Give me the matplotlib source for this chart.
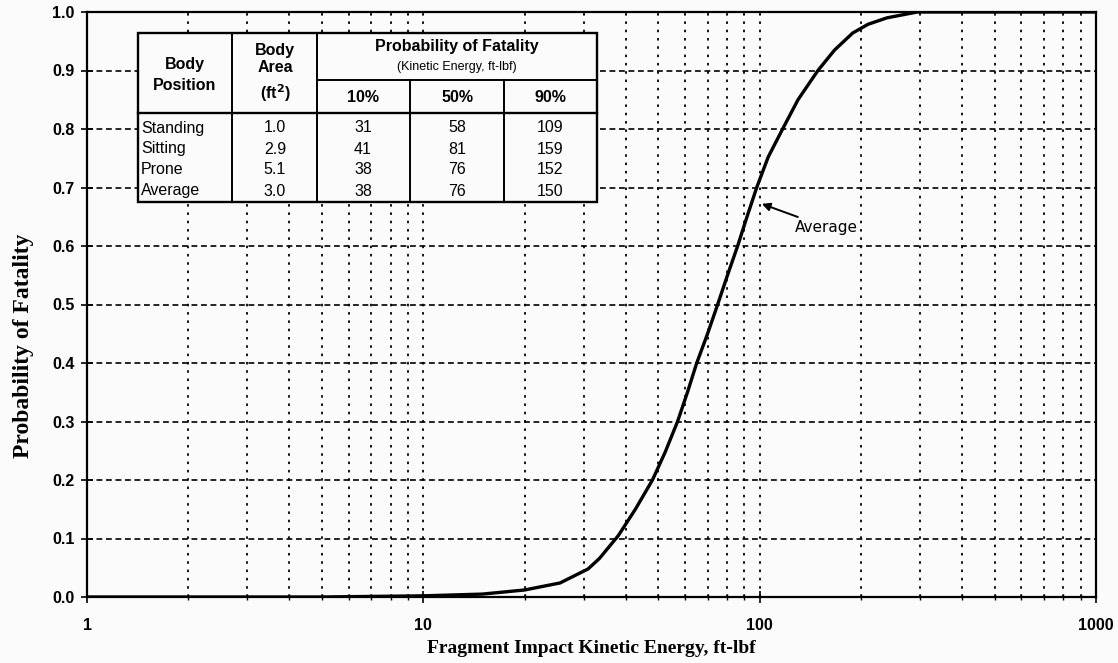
import numpy as np
import matplotlib.pyplot as plt
from matplotlib.patches import Rectangle
from matplotlib.ticker import FixedLocator, NullFormatter

# Curve (energy in ft-lbf, probability of fatality)
energy = [1, 5, 10, 15, 20, 25.5, 30.9, 33.4, 38, 42.7, 48, 52.4, 57, 61, 65, 70, 75,
          80, 86, 91.7, 98, 106, 117, 130, 149, 167, 189, 210, 239, 294, 400, 1000]
prob = [0.0, 0.0, 0.002, 0.005, 0.012, 0.024, 0.048, 0.066, 0.105, 0.15, 0.20, 0.248,
        0.30, 0.35, 0.40, 0.45, 0.50, 0.548, 0.60, 0.65, 0.70, 0.752, 0.80, 0.85,
        0.90, 0.935, 0.964, 0.979, 0.99, 1.0, 1.0, 1.0]

# Table values
positions = ['Standing', 'Sitting', 'Prone', 'Average']
areas = ['1.0', '2.9', '5.1', '3.0']
ke10 = ['31', '41', '38', '38']
ke50 = ['58', '81', '76', '76']
ke90 = ['109', '159', '152', '150']

x_ticks = [1, 10, 100, 1000]
y_ticks = [0.0, 0.1, 0.2, 0.3, 0.4, 0.5, 0.6, 0.7, 0.8, 0.9, 1.0]

W, H = 1118, 663
bg = '#fbfbfb'
fig = plt.figure(figsize=(W / 100, H / 100), dpi=100, facecolor=bg)
L, R, T, B = 87, 1096, 12, 597
ax = fig.add_axes([L / W, 1 - B / H, (R - L) / W, (B - T) / H])
ax.set_facecolor(bg)

ax.plot(energy, prob, color='black', lw=2.4, zorder=3,
        solid_capstyle='round', solid_joinstyle='round')

ax.set_xscale('log')
ax.set_xlim(1, 1000)
ax.set_ylim(0, 1.0)

# grid: dotted verticals, dashed horizontals
ax.xaxis.set_major_locator(FixedLocator(x_ticks))
minors = [m * d for d in [1, 10, 100] for m in range(2, 10)]
ax.xaxis.set_minor_locator(FixedLocator(minors))
ax.xaxis.set_minor_formatter(NullFormatter())
ax.set_xticklabels([str(v) for v in x_ticks])
ax.set_yticks(y_ticks)
ax.set_yticklabels(['%.1f' % v for v in y_ticks])
ax.grid(axis='x', which='both', color='black', lw=1.3, linestyle=(0, (1.4, 3.2)))
ax.grid(axis='y', which='major', color='black', lw=1.2, linestyle=(0, (3.5, 2.2)))
ax.set_axisbelow(True)

for s in ax.spines.values():
    s.set_linewidth(1.6)
ax.tick_params(axis='both', which='major', direction='inout', length=8, width=1.2)
ax.tick_params(axis='x', which='minor', direction='inout', length=4, width=1.0)
ax.tick_params(axis='x', which='major', pad=11)
ax.tick_params(axis='y', which='major', pad=5)
for lab in ax.get_xticklabels() + ax.get_yticklabels():
    lab.set_fontfamily('Liberation Sans')
    lab.set_fontweight('bold')
    lab.set_fontsize(11.5)

ax.set_xlabel('Fragment Impact Kinetic Energy, ft-lbf', family='Liberation Serif',
              fontweight='bold', fontsize=14)
ax.xaxis.set_label_coords(0.5, -0.073)
ax.set_ylabel('Probability of Fatality', family='Liberation Serif',
              fontweight='bold', fontsize=17)
ax.yaxis.set_label_coords(-0.053, 0.43)

# annotation
ax.annotate('Average', xy=(101.5, 0.672), xytext=(127, 0.632), fontsize=11,
            family='DejaVu Sans', va='center', ha='left',
            arrowprops=dict(arrowstyle='-|>', color='black', lw=1.4,
                            mutation_scale=12, shrinkA=0, shrinkB=0),
            zorder=5)

# inset table drawn in pixel-based axes coordinates
def fx(px):
    return (px - L) / (R - L)

def fy(py):
    return (B - py) / (B - T)

tl, tr, tt, tb = 138, 597, 33, 202
cols = [232, 317, 410, 504]
sub_y, head_y = 80, 113
ax.add_patch(Rectangle((fx(tl), fy(tb)), fx(tr) - fx(tl), fy(tt) - fy(tb),
                       transform=ax.transAxes, facecolor=bg, edgecolor='black',
                       lw=1.7, zorder=6))
lk = dict(transform=ax.transAxes, color='black', zorder=7)
ax.plot([fx(cols[0])] * 2, [fy(tt), fy(tb)], lw=1.4, **lk)
ax.plot([fx(cols[1])] * 2, [fy(tt), fy(tb)], lw=1.4, **lk)
ax.plot([fx(cols[2])] * 2, [fy(sub_y), fy(tb)], lw=1.4, **lk)
ax.plot([fx(cols[3])] * 2, [fy(sub_y), fy(tb)], lw=1.4, **lk)
ax.plot([fx(cols[1]), fx(tr)], [fy(sub_y)] * 2, lw=1.4, **lk)
ax.plot([fx(tl), fx(tr)], [fy(head_y)] * 2, lw=1.7, **lk)

tk = dict(transform=ax.transAxes, family='Liberation Sans', zorder=8,
          ha='center', va='center')
fs = 11.5
ax.text(fx(185), fy(64), 'Body', fontsize=fs, fontweight='bold', **tk)
ax.text(fx(185), fy(86), 'Position', fontsize=fs, fontweight='bold', **tk)
ax.text(fx(275), fy(51), 'Body', fontsize=fs, fontweight='bold', **tk)
ax.text(fx(275), fy(67), 'Area', fontsize=fs, fontweight='bold', **tk)
ax.text(fx(275), fy(93), '(ft$^\\mathbf{2}$)', fontsize=fs, fontweight='bold', **tk)
ax.text(fx(457), fy(47), 'Probability of Fatality', fontsize=fs, fontweight='bold', **tk)
ax.text(fx(457), fy(67), '(Kinetic Energy, ft-lbf)', fontsize=9, **tk)
for px, s in zip([363, 457, 550], ['10%', '50%', '90%']):
    ax.text(fx(px), fy(98), s, fontsize=fs, fontweight='bold', **tk)

row_y = [128, 149, 170, 191]
for i, ry in enumerate(row_y):
    ax.text(fx(141), fy(ry), positions[i], transform=ax.transAxes, family='Liberation Sans',
            fontsize=fs, ha='left', va='center', zorder=8)
    ax.text(fx(275), fy(ry), areas[i], fontsize=fs, **tk)
    ax.text(fx(363), fy(ry), ke10[i], fontsize=fs, **tk)
    ax.text(fx(457), fy(ry), ke50[i], fontsize=fs, **tk)
    ax.text(fx(550), fy(ry), ke90[i], fontsize=fs, **tk)

fig.savefig('out.png', dpi=100, facecolor=fig.get_facecolor())
